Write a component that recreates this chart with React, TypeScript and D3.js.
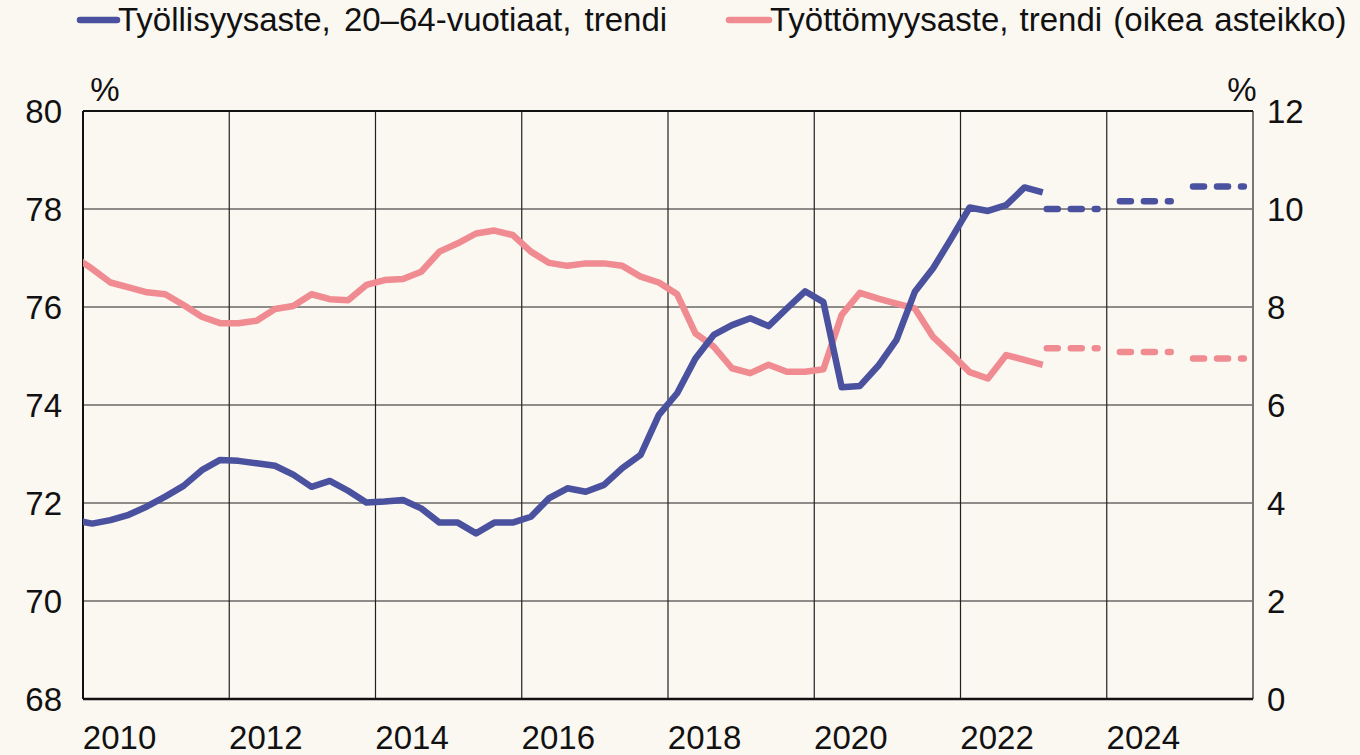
import React from 'react';
import * as d3 from 'd3';

// quarterly trend values, 2009Q4 .. 2023Q1
const startYear = 2009;
const startQuarter = 4;

const employment = [
  71.65,
  71.58, 71.65, 71.76, 71.93,
  72.13, 72.35, 72.67, 72.88,
  72.86, 72.81, 72.76, 72.58,
  72.33, 72.45, 72.25, 72.01,
  72.03, 72.06, 71.89, 71.60,
  71.60, 71.38, 71.60, 71.60,
  71.72, 72.10, 72.30, 72.23,
  72.37, 72.71, 72.98, 73.80,
  74.24, 74.95, 75.43, 75.63,
  75.77, 75.61, 75.97, 76.32,
  76.10, 74.36, 74.39, 74.80,
  75.33, 76.31, 76.79, 77.40,
  78.03, 77.96, 78.08, 78.44,
  78.34,
];

const unemployment = [
  9.03,
  8.78, 8.50, 8.40, 8.30,
  8.26, 8.04, 7.80, 7.67,
  7.67, 7.72, 7.96, 8.02,
  8.26, 8.16, 8.14, 8.45,
  8.55, 8.57, 8.72, 9.13,
  9.30, 9.50, 9.56, 9.47,
  9.13, 8.90, 8.84, 8.89,
  8.89, 8.84, 8.62, 8.50,
  8.26, 7.46, 7.19, 6.75,
  6.65, 6.82, 6.68, 6.68,
  6.73, 7.84, 8.29, 8.17,
  8.07, 7.97, 7.39, 7.04,
  6.67, 6.54, 7.02, 6.92,
  6.82,
];

// annual forecasts (dashed)
const forecastYears = [2023, 2024, 2025];
const employmentForecast = [78.0, 78.16, 78.46];
const unemploymentForecast = [7.16, 7.08, 6.95];

const leftTicks = [68, 70, 72, 74, 76, 78, 80];
const rightTicks = [0, 2, 4, 6, 8, 10, 12];
const yearTicks = [2010, 2012, 2014, 2016, 2018, 2020, 2022, 2024];

const labelEmployment = 'Työllisyysaste, 20–64-vuotiaat, trendi';
const labelUnemployment = 'Työttömyysaste, trendi (oikea asteikko)';

const BG = '#fbf7f1';
const BLUE = '#4a519e';
const PINK = '#f08b91';
const FONT = '"Liberation Sans", Arial, sans-serif';
const FS = 33;

const W = 1360, H = 755;
const margin = { top: 111, right: 107, bottom: 56, left: 83 };

export default function App() {
  const x = d3.scaleLinear().domain([2010, 2026]).range([margin.left, W - margin.right]);
  const yL = d3.scaleLinear().domain([68, 80]).range([H - margin.bottom, margin.top]);
  const yR = d3.scaleLinear().domain([0, 12]).range([H - margin.bottom, margin.top]);

  const t = (i: number) => {
    const q = startQuarter - 1 + i;
    return startYear + Math.floor(q / 4) + ((q % 4) + 0.5) / 4;
  };

  const lineL = d3.line<number>().x((_, i) => x(t(i))).y(d => yL(d));
  const lineR = d3.line<number>().x((_, i) => x(t(i))).y(d => yR(d));

  const x0 = x.range()[0], x1 = x.range()[1];
  const yTop = yL.range()[1], yBot = yL.range()[0];

  const forecastSeg = (yr: number, v: number, sc: d3.ScaleLinear<number, number>) =>
    d3.line<[number, number]>().x(d => x(d[0])).y(d => sc(d[1]))([
      [yr + 0.125, v],
      [yr + 0.875, v],
    ]) as string;

  return (
    <svg width={W} height={H} style={{ position: 'absolute', left: 0, top: 0, background: BG }}
      fontFamily={FONT}>
      <rect width={W} height={H} fill={BG} />
      <defs>
        <clipPath id="plot">
          <rect x={x0} y={yTop - 10} width={x1 - x0} height={yBot - yTop + 20} />
        </clipPath>
      </defs>

      {/* grid */}
      {leftTicks.map(v => (
        <line key={'h' + v} x1={x0} x2={x1} y1={yL(v)} y2={yL(v)} stroke="#222" strokeWidth={1.2} />
      ))}
      {yearTicks.map(yr => (
        <line key={'v' + yr} x1={x(yr)} x2={x(yr)} y1={yTop} y2={yBot} stroke="#222" strokeWidth={1.2} />
      ))}
      <line x1={x0} x2={x0} y1={yTop} y2={yBot} stroke="#111" strokeWidth={2} />
      <line x1={x1} x2={x1} y1={yTop} y2={yBot} stroke="#777" strokeWidth={2} />
      <line x1={x0} x2={x1} y1={yTop} y2={yTop} stroke="#111" strokeWidth={2} />
      <line x1={x0} x2={x1} y1={yBot} y2={yBot} stroke="#111" strokeWidth={2.5} />

      {/* axis labels */}
      {leftTicks.map(v => (
        <text key={'l' + v} x={x0 - 21} y={yL(v)} dy="0.36em" textAnchor="end" fontSize={FS} fill="#111">{v}</text>
      ))}
      {rightTicks.map(v => (
        <text key={'r' + v} x={x1 + 14} y={yR(v)} dy="0.36em" textAnchor="start" fontSize={FS} fill="#111">{v}</text>
      ))}
      {yearTicks.map(yr => (
        <text key={'x' + yr} x={x(yr + 0.5)} y={yBot + 50} textAnchor="middle" fontSize={FS} fill="#111">{yr}</text>
      ))}
      <text x={x0 + 22} y={yTop - 10} textAnchor="middle" fontSize={FS} fill="#111">%</text>
      <text x={x1 - 11} y={yTop - 10} textAnchor="middle" fontSize={FS} fill="#111">%</text>

      {/* series */}
      <g clipPath="url(#plot)" fill="none" strokeWidth={6.5} strokeLinejoin="round">
        <path d={lineR(unemployment) as string} stroke={PINK} />
        <path d={lineL(employment) as string} stroke={BLUE} />
        {forecastYears.map((yr, i) => (
          <path key={'fp' + yr} d={forecastSeg(yr, unemploymentForecast[i], yR)} stroke={PINK}
            strokeDasharray="11 13" strokeDashoffset={-4} strokeLinecap="round" />
        ))}
        {forecastYears.map((yr, i) => (
          <path key={'fb' + yr} d={forecastSeg(yr, employmentForecast[i], yL)} stroke={BLUE}
            strokeDasharray="11 13" strokeDashoffset={-4} strokeLinecap="round" />
        ))}
      </g>

      {/* legend */}
      <line x1={80} x2={117} y1={20} y2={20} stroke={BLUE} strokeWidth={6.5} strokeLinecap="round" />
      <text x={118} y={31} fontSize={FS} fill="#111" wordSpacing={4}>{labelEmployment}</text>
      <line x1={729} x2={769} y1={20} y2={20} stroke={PINK} strokeWidth={6.5} strokeLinecap="round" />
      <text x={770} y={31} fontSize={FS} fill="#111" wordSpacing={2}>{labelUnemployment}</text>
    </svg>
  );
}
